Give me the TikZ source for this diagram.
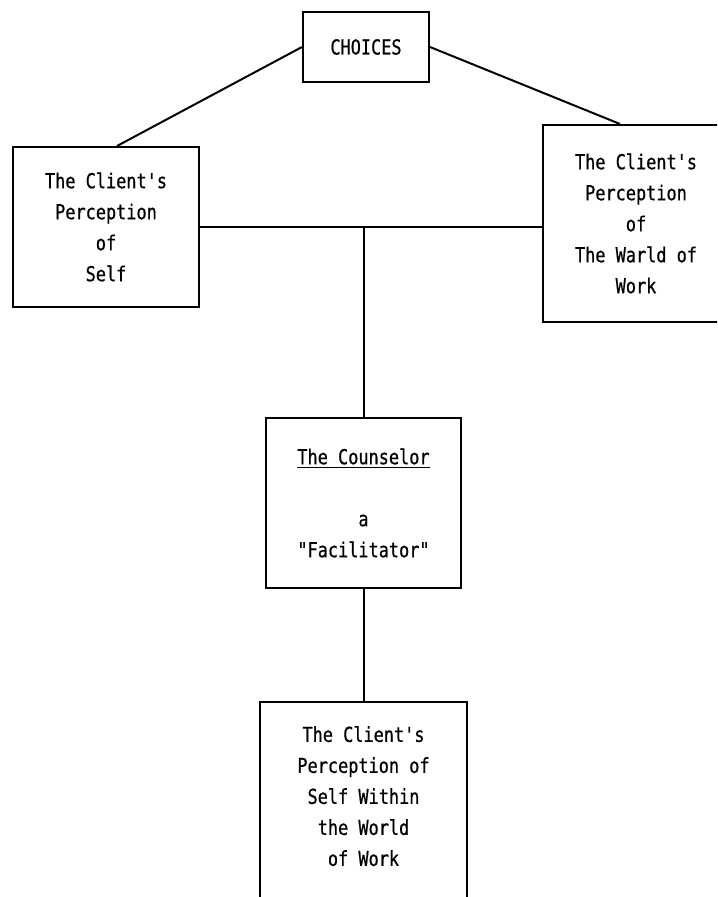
\documentclass[tikz,border=0pt]{standalone}
\usepackage{fontspec}
\newfontfamily\boxfont[FakeStretch=0.82,FakeBold=0.6]{DejaVu Sans Mono}

\begin{document}
\begin{tikzpicture}[x=.5pt, y=-.5pt,
    box/.style={draw=black, line width=1pt, inner sep=0pt, align=center,
        font=\boxfont\fontsize{10.3pt}{15.5pt}\selectfont},
    link/.style={draw=black, line width=1pt}]
\clip (0,0) rectangle (717,897);

% top
\node[box, minimum width=63pt, minimum height=35pt] (choices) at (366,47) {CHOICES};

% client views
\node[box, minimum width=93pt, minimum height=80pt] (self) at (106,227)
    {The Client's\\Perception\\of\\Self};
\node[box, minimum width=93pt, minimum height=98.5pt] (world) at (636,223.5)
    {The Client's\\Perception\\of\\The Warld of\\Work};

% counselor
\node[box, minimum width=97.5pt, minimum height=85pt] (counselor) at (363.5,503)
    {\underline{The Counselor}\\[15.5pt]a\\"Facilitator"};

% result (runs off the page)
\node[box, minimum width=103.5pt, minimum height=120pt] (within) at (363.5,822)
    {The Client's\\Perception of\\Self Within\\the World\\of Work\rule[-26pt]{0pt}{26pt}};

%links
\draw[link] (choices.west) -- ([xshift=5.5pt]self.north);
\draw[link] (choices.east) -- ([xshift=-8pt]world.north);
\draw[link] (self.east) -- (self.east -| world.west);
\coordinate (hub) at (self.east -| counselor.north);
\draw[link] (hub) -- (counselor.north);
\draw[link] (counselor.south) -- (within.north);
\end{tikzpicture}
\end{document}
